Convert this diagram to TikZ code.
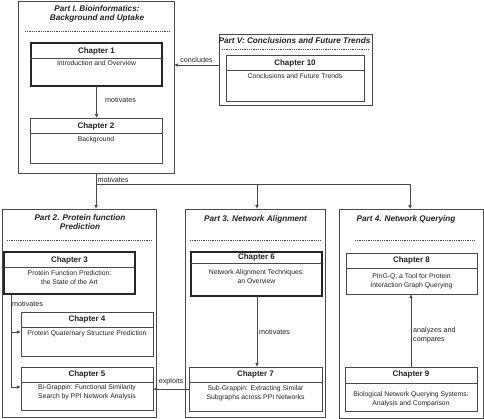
\documentclass[tikz,border=0pt]{standalone}
\usepackage{fontspec}
\setmainfont{Liberation Sans}
\usetikzlibrary{arrows.meta}
\definecolor{ln}{HTML}{4A4A4A}
\definecolor{tx}{HTML}{222222}
\begin{document}
\begin{tikzpicture}[x=1pt,y=-1pt,
 partbox/.style={draw=ln, line width=0.9pt, inner sep=0, outer sep=0},
 chapbox/.style={draw=ln, line width=0.8pt, inner sep=0, outer sep=0},
 thickbox/.style={chapbox, draw=black!85, line width=1.6pt},
 sepline/.style={draw=ln, line width=0.7pt},
 dashline/.style={draw=ln, line width=0.5pt, dash pattern=on 1pt off 0.8pt},
 ptitle/.style={font=\fontsize{8.2}{9.2}\selectfont\bfseries\itshape, text=tx, align=center, inner sep=0},
 hdr/.style={font=\fontsize{8}{9}\selectfont\bfseries, text=tx, inner sep=0},
 body/.style={font=\fontsize{6.8}{8.6}\selectfont, text=tx, align=center, inner sep=0},
 lbl/.style={font=\fontsize{7.2}{9}\selectfont, text=tx, inner sep=0},
 arr/.style={draw=ln, line width=0.7pt, -{Latex[length=4pt,width=3.5pt]}},
 conn/.style={draw=ln, line width=0.7pt}]
\useasboundingbox (0,0) rectangle (484,419);

% ---------- Part boxes ----------
\node[partbox, minimum width=156pt, minimum height=172pt] (p1) at (96,87) {};
\node[partbox, minimum width=153pt, minimum height=71pt] (p5) at (295.5,69.5) {};
\node[partbox, minimum width=154pt, minimum height=208pt] (p2) at (79,313) {};
\node[partbox, minimum width=140pt, minimum height=208pt] (p3) at (255,313) {};
\node[partbox, minimum width=144pt, minimum height=209pt] (p4) at (411,313.5) {};

% titles
\node[ptitle] (t1) at (97,13.5) {Part I. Bioinformatics:\\Background and Uptake};
\node[ptitle] (t5) at (294.5,41) {Part V: Conclusions and Future Trends};
\node[ptitle] (t2) at (80,222) {Part 2. Protein function\\Prediction};
\node[ptitle] (t3) at (255.5,219) {Part 3. Network Alignment};
\node[ptitle] (t4) at (406,219) {Part 4. Network Querying};

% dashed rules
\draw[dashline] (25,31) -- (170,31);
\draw[dashline] (222,49) -- (368,49);
\draw[dashline] (7,240) -- (152,240);
\draw[dashline] (190,240) -- (320,240);
\draw[dashline] (355,240) -- (475,240);

% ---------- Chapter boxes ----------
% Chapter 1
\node[thickbox, minimum width=131pt, minimum height=43pt] (c1) at (96.5,64.5) {};
\draw[sepline] (c1.west |- 0,58) -- (c1.east |- 0,58);
\node[hdr] (c1h) at (96.5,51) {Chapter 1};
\node[body] (c1b) at (96.5,63.5) {Introduction and Overview};
% Chapter 2
\node[chapbox, minimum width=132pt, minimum height=45pt] (c2) at (96,140.5) {};
\draw[sepline] (c2.west |- 0,133) -- (c2.east |- 0,133);
\node[hdr] (c2h) at (96,126) {Chapter 2};
\node[body] (c2b) at (96,139.5) {Background};
% Chapter 10
\node[chapbox, minimum width=138pt, minimum height=46pt] (c10) at (295,78) {};
\draw[sepline] (c10.west |- 0,70) -- (c10.east |- 0,70);
\node[hdr] (c10h) at (295,63) {Chapter 10};
\node[body] (c10b) at (295,76.5) {Conclusions and Future Trends};
% Chapter 3
\node[thickbox, minimum width=131pt, minimum height=42pt] (c3) at (69.5,273) {};
\draw[sepline] (c3.west |- 0,267) -- (c3.east |- 0,267);
\node[hdr] (c3h) at (69.5,260) {Chapter 3};
\node[body] (c3b) at (69.5,277.5) {Protein Function Prediction:\\the State of the Art};
% Chapter 4
\node[chapbox, minimum width=132pt, minimum height=44pt] (c4) at (87,334) {};
\draw[sepline] (c4.west |- 0,327) -- (c4.east |- 0,327);
\node[hdr] (c4h) at (87,319) {Chapter 4};
\node[body] (c4b) at (87,333.5) {Protein Quaternary Structure Prediction};
% Chapter 5
\node[chapbox, minimum width=132pt, minimum height=43pt] (c5) at (87,388.5) {};
\draw[sepline] (c5.west |- 0,382) -- (c5.east |- 0,382);
\node[hdr] (c5h) at (87,374) {Chapter 5};
\node[body] (c5b) at (87,392.5) {Bi-Grappin: Functional Similarity\\Search by PPI Network Analysis};
% Chapter 6
\node[thickbox, minimum width=131pt, minimum height=44pt] (c6) at (256.5,274) {};
\draw[sepline] (c6.west |- 0,263.5) -- (c6.east |- 0,263.5);
\node[hdr] (c6h) at (256.5,257.5) {Chapter 6};
\node[body] (c6b) at (256.5,276.5) {Network Alignment Techniques:\\an Overview};
% Chapter 7
\node[chapbox, minimum width=133pt, minimum height=44pt] (c7) at (255.5,389) {};
\draw[sepline] (c7.west |- 0,382) -- (c7.east |- 0,382);
\node[hdr] (c7h) at (255.5,374) {Chapter 7};
\node[body] (c7b) at (255.5,393) {Sub-Grappin: Extracting Similar\\Subgraphs across PPI Networks};
% Chapter 8
\node[chapbox, minimum width=131pt, minimum height=41pt] (c8) at (411.5,273.5) {};
\draw[sepline] (c8.west |- 0,268) -- (c8.east |- 0,268);
\node[hdr] (c8h) at (411.5,260) {Chapter 8};
\node[body] (c8b) at (411.5,281.5) {PInG-Q: a Tool for Protein\\Interaction Graph Querying};
% Chapter 9
\node[chapbox, minimum width=132pt, minimum height=44pt] (c9) at (411,389) {};
\draw[sepline] (c9.west |- 0,383) -- (c9.east |- 0,383);
\node[hdr] (c9h) at (411,374) {Chapter 9};
\node[body] (c9b) at (411,399) {Biological Network Querying Systems:\\Analysis and Comparison};

% ---------- Connectors ----------
\draw[arr] (c1.south) -- (c1.south |- c2.north);
\node[lbl, anchor=west] (l12) at (105,100) {motivates};

\draw[arr] (p5.west |- 0,65) -- (p1.east |- 0,65);
\node[lbl, anchor=south] (l51) at (196.5,63) {concludes};

\coordinate (jn) at (96,184);
\draw[arr] (p1.south) -- (p1.south |- p2.north);
\draw[arr] (jn) -| ([xshift=2pt]p3.north);
\draw[arr] (jn) -| ([xshift=-1pt]p4.north);
\node[lbl, anchor=south west] (lm) at (97.5,183) {motivates};

\coordinate (m3) at ([xshift=7pt]c3.south west);
\draw[arr] (m3) |- ([yshift=2pt]c4.west);
\draw[arr] (m3) |- ([yshift=1.5pt]c5.west);
\node[lbl, anchor=west] (l34) at (12,304) {motivates};

\draw[arr] ([xshift=0.5pt]c6.south) -- ([xshift=0.5pt]c6.south |- c7.north);
\node[lbl, anchor=west] (l67) at (259,332) {motivates};

\draw[arr] (c7.west) -- (c7.west -| c5.east);
\node[lbl, anchor=south] (l75) at (171,385) {exploits};

\draw[arr] (c9.north) -- (c9.north |- c8.south);
\node[lbl, anchor=west, align=left] (l98) at (413,335) {analyzes and\\compares};
\end{tikzpicture}
\end{document}
